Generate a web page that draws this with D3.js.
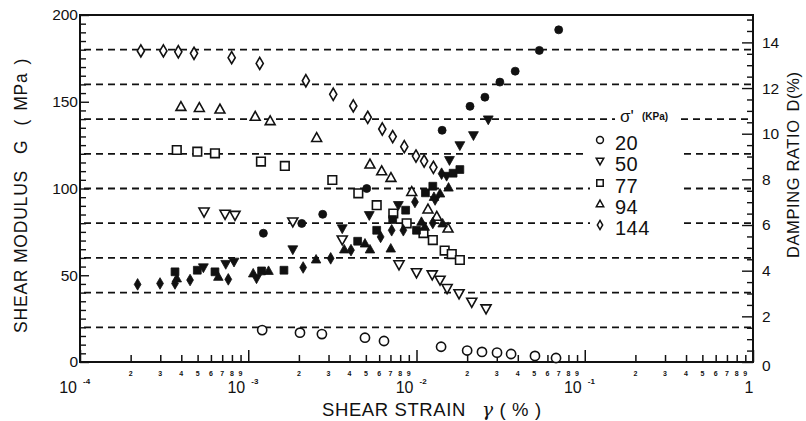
<!DOCTYPE html>
<html>
<head>
<meta charset="utf-8">
<script src="https://cdn.jsdelivr.net/npm/d3@7"></script>
<style>
  html, body { margin: 0; padding: 0; background: #fff; }
  svg { display: block; }
  text { font-family: "Liberation Sans", Arial, sans-serif; fill: #111; }
</style>
</head>
<body>
<svg id="chart" width="806" height="421"></svg>
<script>
// Shear modulus G (MPa) vs shear strain (%), one series per confining stress (kPa)
const g20  = [[1.21e-3,18.4],[2.03e-3,16.9],[2.74e-3,16.1],[4.94e-3,14.0],[6.41e-3,12.1],[1.40e-2,8.8],[2.0e-2,6.6],[2.45e-2,5.8],[3.01e-2,5.4],[3.65e-2,4.6],[5.06e-2,3.5],[6.75e-2,2.3]];
const g50  = [[5.46e-4,86.6],[7.28e-4,85.3],[8.34e-4,84.7],[1.84e-3,80.9],[3.62e-3,70.5],[7.87e-3,56.2],[1.0e-2,51.6],[1.24e-2,50.4],[1.38e-2,47.3],[1.52e-2,42.5],[1.79e-2,39.5],[2.13e-2,34.6],[2.59e-2,30.8]];
const g77  = [[3.76e-4,122.2],[4.98e-4,121.2],[6.34e-4,120.3],[1.19e-3,115.5],[1.65e-3,113.0],[3.16e-3,104.9],[4.51e-3,97.2],[5.80e-3,90.4],[7.28e-3,85.6],[8.74e-3,79.9],[1.10e-2,74.3],[1.25e-2,70.3],[1.47e-2,64.2],[1.62e-2,62.2],[1.81e-2,58.8]];
const g94  = [[3.98e-4,147.1],[5.12e-4,146.5],[6.79e-4,145.6],[1.10e-3,141.4],[1.35e-3,138.9],[2.55e-3,129.2],[5.29e-3,113.9],[6.21e-3,110.0],[7.05e-3,106.2],[9.37e-3,98.1],[1.17e-2,88.0],[1.32e-2,83.8],[1.54e-2,77.0]];
const g144 = [[2.30e-4,179.3],[3.13e-4,179.3],[3.84e-4,178.8],[4.76e-4,177.9],[7.97e-4,175.4],[1.17e-3,172.1],[2.20e-3,162.1],[3.20e-3,154.3],[4.21e-3,147.6],[5.13e-3,141.0],[6.26e-3,134.3],[7.22e-3,129.9],[8.46e-3,124.1],[9.93e-3,118.7],[1.11e-2,115.8],[1.26e-2,112.2]];

// Damping ratio D (%) vs shear strain (%)
const d20  = [[1.23e-3,5.64],[2.08e-3,6.07],[2.77e-3,6.47],[5.06e-3,7.60],[1.42e-2,10.15],[2.08e-2,11.2],[2.55e-2,11.6],[3.13e-2,12.26],[3.86e-2,12.74],[5.37e-2,13.65],[7.0e-2,14.55]];
const d50  = [[5.41e-4,4.14],[7.35e-4,4.29],[8.23e-4,4.39],[1.12e-3,3.66],[1.84e-3,4.93],[3.62e-3,5.85],[5.24e-3,6.43],[7.80e-3,6.87],[1.29e-2,7.09],[1.51e-2,8.15],[1.57e-2,8.84],[1.81e-2,9.49],[2.18e-2,9.93],[2.67e-2,10.62]];
const d77  = [[3.67e-4,3.95],[4.98e-4,4.02],[6.34e-4,3.95],[1.20e-3,3.99],[1.63e-3,4.02],[4.47e-3,5.29],[5.80e-3,5.77],[7.22e-3,6.24],[8.62e-3,6.65],[1.0e-2,5.77],[1.13e-2,7.41],[1.25e-2,7.70],[1.65e-2,8.27],[1.81e-2,8.43]];
const d94  = [[3.76e-4,3.66],[6.64e-4,3.73],[1.07e-3,3.88],[1.32e-3,3.99],[2.53e-3,4.49],[3.72e-3,4.93],[4.94e-3,5.19],[5.29e-3,4.93],[7.03e-3,4.97],[1.07e-2,6.14],[1.12e-2,5.92],[1.27e-2,7.23],[1.38e-2,7.38],[1.43e-2,6.07],[1.55e-2,7.64]];
const d144 = [[2.20e-4,3.40],[2.99e-4,3.44],[3.67e-4,3.44],[4.51e-4,3.59],[7.61e-4,3.62],[2.12e-3,4.14],[3.09e-3,4.54],[4.08e-3,4.90],[6.12e-3,5.48],[7.12e-3,5.77],[8.35e-3,5.77],[9.79e-3,7.01],[1.25e-2,6.09],[1.41e-2,8.25]];

const stressLabels = ["20", "50", "77", "94", "144"];
const decades = [1e-4, 1e-3, 1e-2, 1e-1, 1];
const decadeExp = ["-4", "-3", "-2", "-1", ""];
const minorDigits = [2, 3, 4, 5, 6, 7, 8, 9];
const gTickLabels = [0, 50, 100, 150, 200];
const dTickLabels = [0, 2, 4, 6, 8, 10, 12, 14];
const gGrid = [20, 40, 60, 80, 100, 120, 140, 160, 180];

const svg = d3.select("#chart");
const L = 80, R = 753, T = 15, B = 362;

const x = d3.scaleLog().domain([1e-4, 1]).range([L, R]);
const yG = d3.scaleLinear().domain([0, 200]).range([B, T]);
const yD = d3.scaleLinear().domain([0, 15.2]).range([B, T]);

// dashed reference lines, interrupted where the legend sits
const gaps = { 140: [617, 677], 120: [590, 680], 100: [592, 680], 80: [592, 680] };
const gridG = svg.append("g");
gGrid.forEach(v => {
  const yy = yG(v);
  const segs = gaps[v] ? [[L, gaps[v][0]], [gaps[v][1], R]] : [[L, R]];
  segs.forEach(s => {
    gridG.append("line")
      .attr("x1", s[0] + 4).attr("x2", s[1] - 2)
      .attr("y1", yy).attr("y2", yy)
      .attr("stroke", "#111").attr("stroke-width", 1.8)
      .attr("stroke-dasharray", "7,5");
  });
});

// axes
const allMinor = [];
decades.slice(0, 4).forEach(d => { for (let k = 1; k <= 9; k++) allMinor.push(d * k); });
allMinor.push(1);

const xAxis = d3.axisBottom(x).tickValues(allMinor).tickSizeInner(-7).tickSizeOuter(0).tickFormat("");
const gx = svg.append("g").attr("transform", `translate(0,${B})`).call(xAxis);
gx.select(".domain").remove();
gx.selectAll(".tick line")
  .attr("stroke", "#111").attr("stroke-width", 1.5)
  .attr("y2", d => decades.some(v => Math.abs(Math.log10(v) - Math.log10(d)) < 1e-9) ? -12 : -7);

const yAxisL = d3.axisLeft(yG).tickValues(d3.range(0, 201, 5)).tickSizeInner(-6).tickSizeOuter(0).tickPadding(2)
  .tickFormat(d => gTickLabels.includes(d) ? d : "");
const gyl = svg.append("g").attr("transform", `translate(${L},0)`).call(yAxisL);
gyl.select(".domain").remove();
gyl.selectAll(".tick line").attr("stroke", "#111").attr("stroke-width", 1.4)
  .attr("x2", d => d % 50 === 0 ? 9 : 6);
gyl.selectAll(".tick text").attr("font-size", 15.5).attr("font-family", "Liberation Sans, Arial, sans-serif").attr("fill", "#111");

const yAxisR = d3.axisRight(yD).tickValues(d3.range(0, 15.01, 0.5)).tickSizeInner(-6).tickSizeOuter(0).tickPadding(9)
  .tickFormat(d => dTickLabels.includes(d) ? d : "");
const gyr = svg.append("g").attr("transform", `translate(${R},0)`).call(yAxisR);
gyr.select(".domain").remove();
gyr.selectAll(".tick line").attr("stroke", "#111").attr("stroke-width", 1.4)
  .attr("x2", d => d % 2 === 0 ? -11 : -6);
gyr.selectAll(".tick text").attr("font-size", 15.5).attr("font-family", "Liberation Sans, Arial, sans-serif").attr("fill", "#111")
  .attr("dy", d => d === 0 ? "0.55em" : "0.32em");

// frame
svg.append("rect").attr("x", L).attr("y", T).attr("width", R - L).attr("height", B - T)
  .attr("fill", "none").attr("stroke", "#111").attr("stroke-width", 2);

// x tick labels
const xl = svg.append("g");
decades.slice(0, 4).forEach(d => {
  minorDigits.forEach(k => {
    xl.append("text").attr("x", x(d * k)).attr("y", 376)
      .attr("text-anchor", "middle").attr("font-size", 7).attr("font-weight", "bold").text(k);
  });
});
decades.forEach((d, i) => {
  if (decadeExp[i]) {
    xl.append("text").attr("x", x(d) - 3).attr("y", 393).attr("text-anchor", "end")
      .attr("font-size", 16).text("10");
    xl.append("text").attr("x", x(d) + 3).attr("y", 384).attr("text-anchor", "start")
      .attr("font-size", 8).attr("font-weight", "bold").text(decadeExp[i]);
  } else {
    xl.append("text").attr("x", x(d) - 4).attr("y", 393).attr("text-anchor", "middle")
      .attr("font-size", 16).text("1");
  }
});

// axis titles
const xt = svg.append("text").attr("x", 322).attr("y", 416).attr("font-size", 18.5).attr("letter-spacing", 0.6);
xt.append("tspan").text("SHEAR STRAIN");
xt.append("tspan").attr("dx", 16).attr("font-family", "DejaVu Serif, serif").attr("font-style", "italic").text("γ");
xt.append("tspan").attr("dx", 6).text("( % )");

const ylt = svg.append("text").attr("transform", "translate(27,333) rotate(-90)")
  .attr("font-size", 17.5).attr("letter-spacing", 0.8);
ylt.append("tspan").text("SHEAR MODULUS");
ylt.append("tspan").attr("dx", 16).text("G");
ylt.append("tspan").attr("dx", 14).text("(");
ylt.append("tspan").attr("dx", 8).text("MPa");
ylt.append("tspan").attr("dx", 8).text(")");

const yrt = svg.append("text").attr("transform", "translate(799,258) rotate(-90)")
  .attr("font-size", 16.5).attr("letter-spacing", 0.6);
yrt.append("tspan").text("DAMPING RATIO");
yrt.append("tspan").attr("dx", 8).text("D(%)");

// marker shapes, centred on the data point
const shape = {
  circle: s => `M${s},0A${s},${s} 0 1,1 ${-s},0A${s},${s} 0 1,1 ${s},0Z`,
  tri: s => `M0,${-s}L${s * 0.95},${s * 0.7}L${-s * 0.95},${s * 0.7}Z`,
  invtri: s => `M0,${s}L${s * 0.95},${-s * 0.7}L${-s * 0.95},${-s * 0.7}Z`,
  square: s => `M${-s},${-s}H${s}V${s}H${-s}Z`,
  diamond: s => `M0,${-s * 1.45}L${s * 0.85},0L0,${s * 1.45}L${-s * 0.85},0Z`
};
const shapeNames = ["circle", "invtri", "square", "tri", "diamond"];
const hollowSize = { circle: 4.6, invtri: 5.3, square: 4.3, tri: 5.2, diamond: 4.2 };
const filledSize = { circle: 4.0, invtri: 5.2, square: 3.9, tri: 5.0, diamond: 4.0 };

const gSeries = [g20, g50, g77, g94, g144];
const dSeries = [d20, d50, d77, d94, d144];

const marks = svg.append("g");
gSeries.forEach((data, i) => {
  const nm = shapeNames[i];
  marks.append("g").selectAll("path").data(data).join("path")
    .attr("transform", d => `translate(${x(d[0])},${yG(d[1])})`)
    .attr("d", shape[nm](hollowSize[nm]))
    .attr("fill", "#fff").attr("stroke", "#111").attr("stroke-width", 1.6);
});
dSeries.forEach((data, i) => {
  const nm = shapeNames[i];
  marks.append("g").selectAll("path").data(data).join("path")
    .attr("transform", d => `translate(${x(d[0])},${yD(d[1])})`)
    .attr("d", shape[nm](filledSize[nm]))
    .attr("fill", "#111").attr("stroke", "#111").attr("stroke-width", 0.8);
});

// legend
const lg = svg.append("g");
lg.append("text").attr("x", 620).attr("y", 122).attr("font-size", 17).attr("font-family", "DejaVu Serif, serif").text("σ'");
lg.append("text").attr("x", 642).attr("y", 120).attr("font-size", 10).attr("font-weight", "bold").text("(KPa)");
const legendY = [140, 161, 183, 204, 225];
stressLabels.forEach((lab, i) => {
  const nm = shapeNames[i];
  lg.append("path").attr("transform", `translate(600,${legendY[i]})`)
    .attr("d", shape[nm](hollowSize[nm] * 0.75))
    .attr("fill", "#fff").attr("stroke", "#111").attr("stroke-width", 1.5);
  lg.append("text").attr("x", 615).attr("y", legendY[i] + 10)
    .attr("font-size", 20).attr("letter-spacing", 0.5).text(lab);
});
</script>
</body>
</html>
